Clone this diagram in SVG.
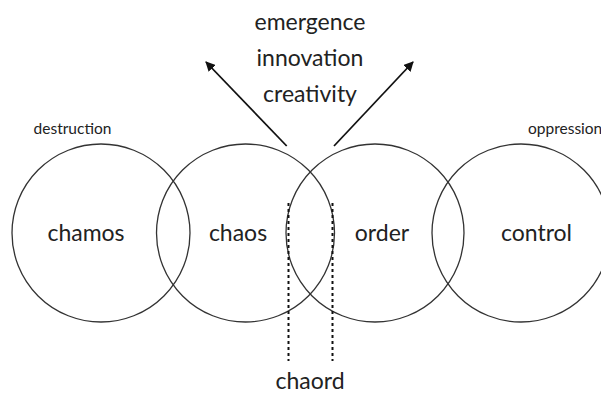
<svg xmlns="http://www.w3.org/2000/svg" width="601" height="396" viewBox="0 0 601 396">
<style>
.c{fill:none;stroke:#333;stroke-width:1.3}
.t{font-family:Lato,"Open Sans","Liberation Sans",sans-serif;fill:#222;text-anchor:middle}
.big{font-size:23px}
.small{font-size:15.5px}
.a{stroke:#111;stroke-width:1.8;fill:none;marker-end:url(#ah)}
.d{stroke:#111;stroke-width:2;stroke-dasharray:3 3}
</style>
<defs>
<marker id="ah" viewBox="0 0 10 10" refX="9" refY="5" markerWidth="5.5" markerHeight="5.5" orient="auto" markerUnits="strokeWidth">
<path d="M0,0 L10,5 L0,10 z" fill="#111"/>
</marker>
</defs>
<rect width="601" height="396" fill="#fff"/>
<g id="chamos"><circle class="c" cx="101" cy="233" r="89"/><text class="t big" x="86" y="241">chamos</text></g>
<g id="chaos"><circle class="c" cx="245.5" cy="233" r="89"/><text class="t big" x="238" y="241">chaos</text></g>
<g id="order"><circle class="c" cx="375" cy="233" r="89"/><text class="t big" x="382" y="241">order</text></g>
<g id="control"><circle class="c" cx="521" cy="233" r="89"/><text class="t big" x="536.5" y="241">control</text></g>
<g id="labels">
<text class="t small" x="72.5" y="134">destruction</text>
<text class="t small" x="528" y="134" style="text-anchor:start">oppression</text>
<text class="t big" x="310" y="30">emergence</text>
<text class="t big" x="310" y="66">innovation</text>
<text class="t big" x="310" y="102">creativity</text>
<text class="t big" x="310" y="389">chaord</text>
</g>
<g id="connectors">
<line class="a" x1="286.7" y1="146" x2="206" y2="62"/>
<line class="a" x1="334" y1="146" x2="413" y2="62"/>
<line class="d" x1="288.5" y1="203" x2="288.5" y2="361"/>
<line class="d" x1="332.5" y1="203" x2="332.5" y2="361"/>
</g>
</svg>
